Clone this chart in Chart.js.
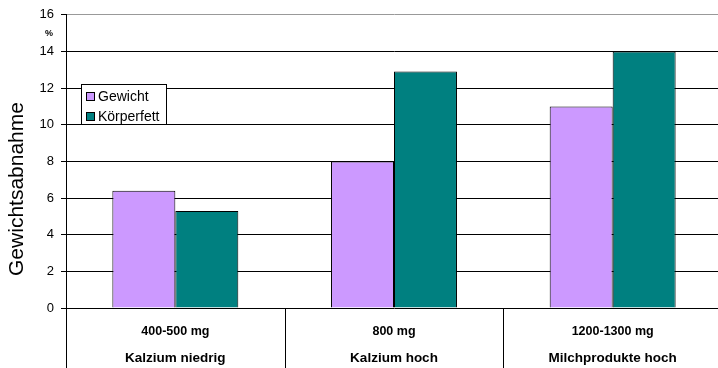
<!DOCTYPE html>
<html>
<head>
<meta charset="utf-8">
<script src="https://cdn.jsdelivr.net/npm/chart.js@4/dist/chart.umd.min.js"></script>
<style>
  html, body { margin: 0; padding: 0; background: #fff; overflow: hidden; }
  #wrap { position: relative; width: 718px; height: 368px; overflow: hidden; }
  #c { display: block; }
</style>
</head>
<body>
<div id="wrap"><canvas id="c" width="722" height="368"></canvas></div>
<script>
// Calcium intake groups and resulting weight / body-fat loss (%)
const doseLabels = ['400-500 mg', '800 mg', '1200-1300 mg'];
const groupLabels = ['Kalzium niedrig', 'Kalzium hoch', 'Milchprodukte hoch'];
const gewicht = [6.4, 8.0, 11.0];
const koerperfett = [5.3, 12.9, 14.0];
const yTicks = { min: 0, max: 16, step: 2 };

const FONT = '"Liberation Sans", Arial, sans-serif';

// Vertical separators between the category blocks, plus the group names
const categoryFrame = {
  id: 'categoryFrame',
  afterDraw(chart) {
    const { ctx, scales: { x }, chartArea } = chart;
    ctx.save();
    ctx.strokeStyle = '#000';
    ctx.lineWidth = 1;
    const xs = [chartArea.left];
    for (let i = 0; i < doseLabels.length - 1; i++) {
      xs.push((x.getPixelForValue(i) + x.getPixelForValue(i + 1)) / 2);
    }
    xs.forEach(px => {
      const p = Math.round(px) + 0.5;
      ctx.beginPath();
      ctx.moveTo(p, chartArea.bottom);
      ctx.lineTo(p, chart.height);
      ctx.stroke();
    });
    ctx.fillStyle = '#000';
    ctx.font = 'bold 13.5px ' + FONT;
    ctx.textAlign = 'center';
    ctx.textBaseline = 'middle';
    groupLabels.forEach((g, i) => {
      ctx.fillText(g, x.getPixelForValue(i), chartArea.bottom + 50);
    });
    ctx.restore();
  }
};

// Axis title, unit mark and the boxed legend inside the plot
const annotations = {
  id: 'annotations',
  afterDraw(chart) {
    const { ctx, scales: { y } } = chart;
    ctx.save();
    ctx.fillStyle = '#000';
    ctx.font = '21px ' + FONT;
    ctx.textAlign = 'center';
    ctx.textBaseline = 'middle';
    ctx.translate(17, 189);
    ctx.rotate(-Math.PI / 2);
    ctx.fillText('Gewichtsabnahme', 0, 0);
    ctx.restore();

    ctx.save();
    ctx.fillStyle = '#000';
    ctx.font = 'bold 9px ' + FONT;
    ctx.textAlign = 'center';
    ctx.textBaseline = 'middle';
    ctx.fillText('%', 49, (y.getPixelForValue(16) + y.getPixelForValue(14)) / 2);
    ctx.restore();

    // legend
    ctx.save();
    const bx = 81.5, by = 84.5, bw = 85, bh = 40;
    ctx.fillStyle = '#fff';
    ctx.fillRect(bx, by, bw, bh);
    ctx.strokeStyle = '#000';
    ctx.lineWidth = 1;
    ctx.strokeRect(bx, by, bw, bh);
    ctx.font = '14px ' + FONT;
    ctx.textAlign = 'left';
    ctx.textBaseline = 'middle';
    chart.data.datasets.forEach((ds, i) => {
      const sy = 92.5 + i * 20;
      ctx.fillStyle = ds.backgroundColor;
      ctx.fillRect(86.5, sy, 8, 8);
      ctx.strokeRect(86.5, sy, 8, 8);
      ctx.fillStyle = '#000';
      ctx.fillText(ds.label, 98, sy + 4.5);
    });
    ctx.restore();
  }
};

new Chart(document.getElementById('c'), {
  type: 'bar',
  data: {
    labels: doseLabels,
    datasets: [
      { label: 'Gewicht', data: gewicht, backgroundColor: '#CC99FF', borderColor: '#000', borderWidth: 1 },
      { label: 'Körperfett', data: koerperfett, backgroundColor: '#008080', borderColor: '#000', borderWidth: 1 }
    ]
  },
  options: {
    responsive: false,
    animation: false,
    devicePixelRatio: 1,
    layout: { padding: { top: 14, right: 0, left: 0, bottom: 0 } },
    datasets: { bar: { categoryPercentage: 0.576, barPercentage: 1.0 } },
    plugins: { legend: { display: false }, tooltip: { enabled: false } },
    scales: {
      x: {
        grid: { display: false, drawTicks: false },
        border: { display: false },
        ticks: {
          color: '#000',
          font: { family: FONT, size: 12.5, weight: 'bold' },
          padding: 16,
          maxRotation: 0,
          autoSkip: false
        },
        afterFit(scale) { scale.height = 60; }
      },
      y: {
        min: yTicks.min,
        max: yTicks.max,
        ticks: {
          stepSize: yTicks.step,
          color: '#000',
          font: { family: FONT, size: 13 },
          padding: 7
        },
        grid: {
          color: ctx => (ctx.tick && ctx.tick.value === yTicks.max ? '#999' : '#000'),
          tickColor: '#000',
          tickLength: 5,
          lineWidth: 1
        },
        border: { display: true, color: '#000', width: 1 },
        afterFit(scale) { scale.width = 66; }
      }
    }
  },
  plugins: [categoryFrame, annotations]
});
</script>
</body>
</html>
